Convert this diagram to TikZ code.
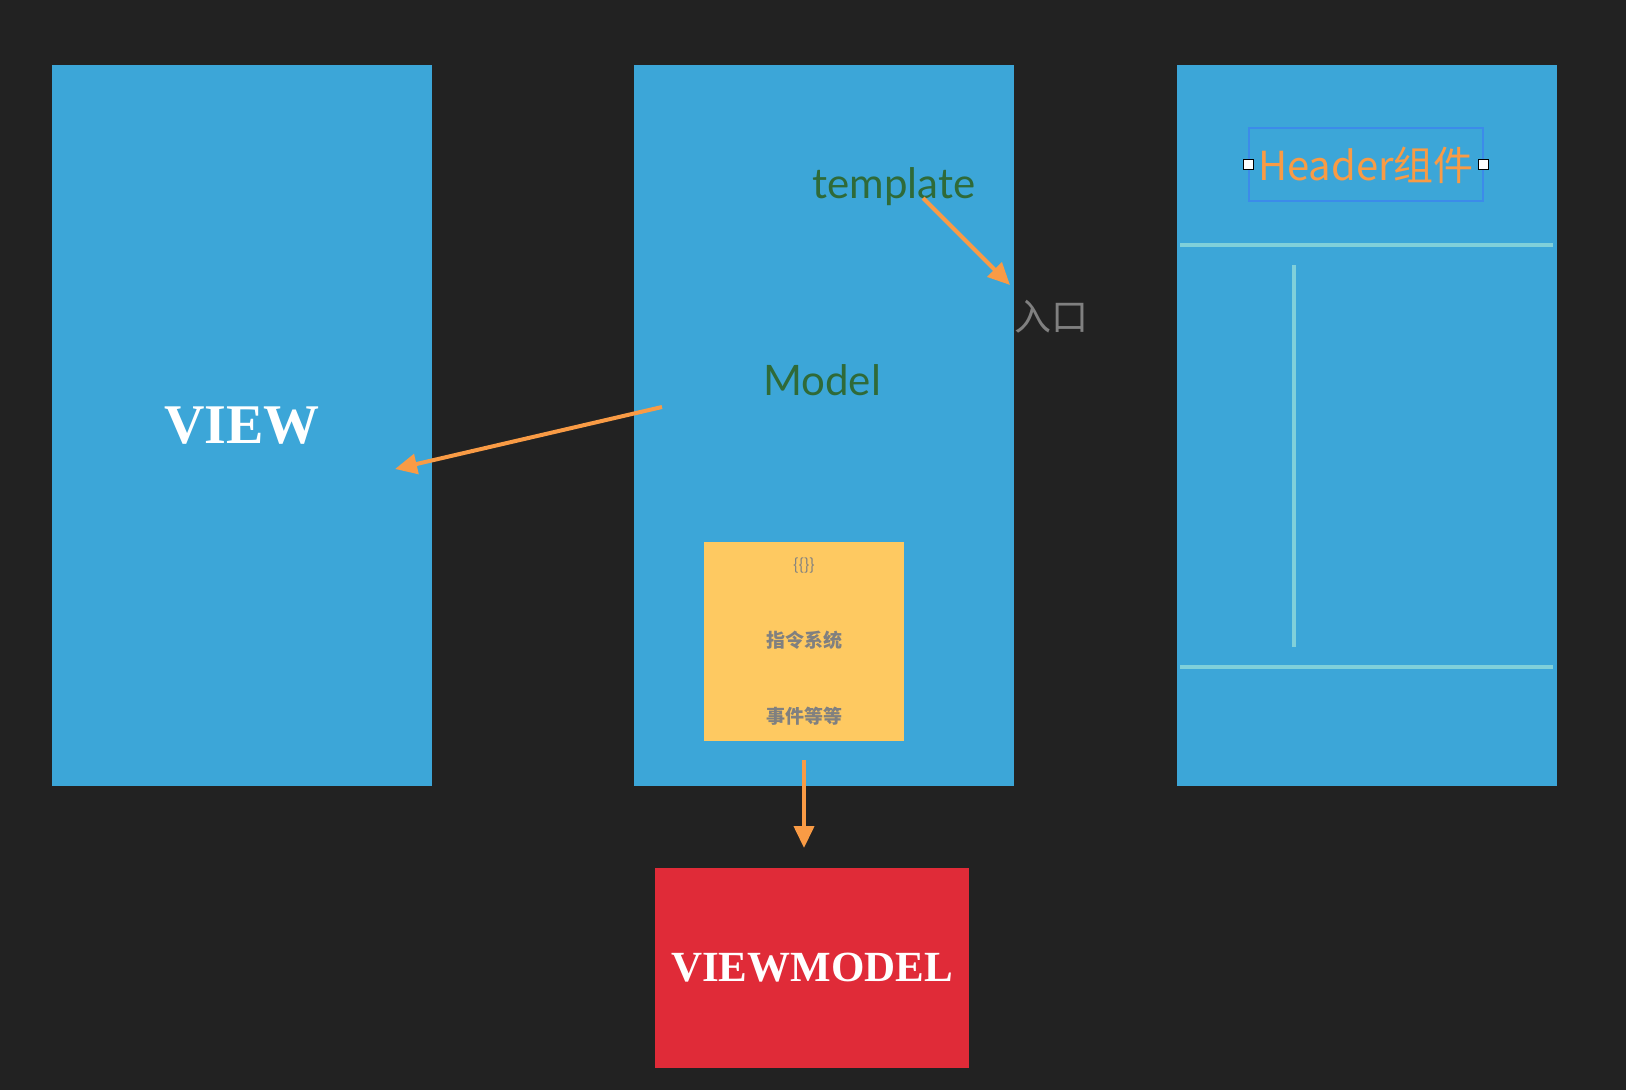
\documentclass[tikz,border=0pt]{standalone}
\usepackage{fontspec}
\setmainfont{Liberation Serif}
\newfontfamily\latofont{Lato}
\newfontfamily\cjkfont{Noto Sans CJK SC}
\usepackage{xcolor}
\usetikzlibrary{arrows.meta}
\definecolor{bgdark}{HTML}{222222}
\definecolor{panelblue}{HTML}{3CA6D8}
\definecolor{noteyellow}{HTML}{FEC961}
\definecolor{vmred}{HTML}{E02B38}
\definecolor{floworange}{HTML}{F99B45}
\definecolor{guidecyan}{HTML}{80D0DA}
\definecolor{selblue}{HTML}{3C8BEA}
\definecolor{tplgreen}{HTML}{2F6A38}
\definecolor{notegrey}{HTML}{808080}

\begin{document}
\begin{tikzpicture}[x=1pt,y=-1pt,
    panel/.style={fill=panelblue,minimum width=380pt,minimum height=721pt,inner sep=0pt},
    flow/.style={draw=floworange,line width=4pt,-{Triangle[length=22pt,width=20pt]}},
    guide/.style={draw=guidecyan,line width=4pt},
    handle/.style={draw=black,fill=white,line width=1pt,minimum size=10pt,inner sep=0pt},
    label/.style={inner sep=0pt}]
  \fill[bgdark] (0,0) rectangle (1626,1090);
  \useasboundingbox (0,0) rectangle (1626,1090);

  % three panels
  \node[panel] (view) at (242,425.5) {};
  \node[panel] (model) at (823.5,425.5) {};
  \node[panel] (header) at (1366.5,425.5) {};

  \node[label,text=white] (viewtext) at (242,426) {\fontsize{56}{62}\selectfont\bfseries VIEW};
  \node[label,text=tplgreen] (modeltext) at (822,380) {\fontsize{42}{48}\selectfont\latofont Model};
  \node[label,text=tplgreen] (template) at (894,187) {\fontsize{42}{48}\selectfont\latofont template};
  \node[label,text=notegrey,anchor=west] (entry) at (1014,317) {\fontsize{37}{40}\selectfont\cjkfont 入口};

  % directive box
  \node[fill=noteyellow,minimum width=200pt,minimum height=199pt,inner sep=0pt] (directive) at (804,641.5) {};
  \node[label,text=notegrey] (mustache) at (804,566) {\fontsize{16}{18}\selectfont\cjkfont\{\{\}\}};
  \node[label,text=notegrey] (directives) at (804,640) {\fontsize{19}{22}\selectfont\cjkfont\bfseries 指令系统};
  \node[label,text=notegrey] (events) at (804,716) {\fontsize{19}{22}\selectfont\cjkfont\bfseries 事件等等};

  % viewmodel
  \node[fill=vmred,minimum width=314pt,minimum height=200pt,inner sep=0pt] (vm) at (812,968) {};
  \node[label,text=white] (vmtext) at (812,968) {\fontsize{43}{48}\selectfont\bfseries VIEWMODEL};

  % header component
  \node[draw=selblue,line width=1.5pt,minimum width=234pt,minimum height=73pt,inner sep=0pt] (hbox) at (1366,164.5) {};
  \node[label,text=floworange] (htext) at (1366,165) {\fontsize{40}{44}\selectfont\cjkfont Header组件};
  \node[handle] (hleft) at (hbox.west) {};
  \node[handle] (hright) at (hbox.east) {};

  \coordinate (topl) at (1180,245);
  \coordinate (topr) at (1553,245);
  \coordinate (sidet) at (1294,265);
  \coordinate (sideb) at (1294,647);
  \coordinate (botl) at (1180,667);
  \coordinate (botr) at (1553,667);
  \draw[guide] (topl) -- (topr);
  \draw[guide] (sidet) -- (sideb);
  \draw[guide] (botl) -- (botr);

  % arrows
  \coordinate (tplout) at (923,198);
  \coordinate (tplin) at (1010,285);
  \coordinate (modelout) at (662,407);
  \coordinate (viewin) at (395,469);
  \coordinate (dirout) at (804,760);
  \coordinate (vmin) at (804,848);
  \draw[flow] (tplout) -- (tplin);
  \draw[flow] (modelout) -- (viewin);
  \draw[flow] (dirout) -- (vmin);
\end{tikzpicture}
\end{document}
